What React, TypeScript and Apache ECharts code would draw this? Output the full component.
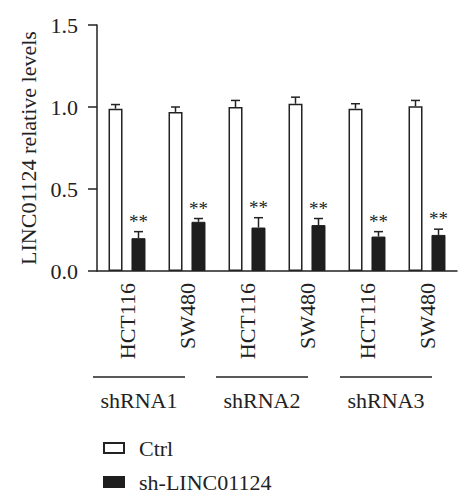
import { useEffect, useRef } from "react";
import * as echarts from "echarts";

const cellLines = ["HCT116", "SW480", "HCT116", "SW480", "HCT116", "SW480"];
const shGroups = ["shRNA1", "shRNA2", "shRNA3"];
const yTicks = [0, 0.5, 1.0, 1.5];

const ctrlValues = [0.99, 0.97, 1.0, 1.02, 0.99, 1.005];
const ctrlErrors = [0.025, 0.03, 0.04, 0.04, 0.03, 0.035];
const shValues = [0.2, 0.3, 0.265, 0.28, 0.21, 0.22];
const shErrors = [0.04, 0.02, 0.06, 0.04, 0.03, 0.035];
const shMarks = ["**", "**", "**", "**", "**", "**"];

const FONT = "'Liberation Serif', 'DejaVu Serif', serif";
const INK = "#222";

// error bar (upper half only) drawn next to the bar, shifted by barOffset
function makeErrorSeries(values: number[], errors: number[], barOffset: number, marks?: string[]) {
  return {
    type: "custom",
    silent: true,
    z: 5,
    data: values.map((v, i) => [i, v, v + errors[i]]),
    renderItem: (params: any, api: any) => {
      const idx = api.value(0);
      const base = api.coord([idx, api.value(1)]);
      const top = api.coord([idx, api.value(2)]);
      const x = base[0] + barOffset;
      const children: any[] = [
        {
          type: "line",
          shape: { x1: x, y1: base[1], x2: x, y2: top[1] },
          style: { stroke: INK, lineWidth: 1.5 },
        },
        {
          type: "line",
          shape: { x1: x - 4.5, y1: top[1], x2: x + 4.5, y2: top[1] },
          style: { stroke: INK, lineWidth: 1.5 },
        },
      ];
      if (marks) {
        children.push({
          type: "text",
          x,
          y: top[1] - 1,
          style: {
            text: marks[params.dataIndex],
            fill: INK,
            font: `19px ${FONT}`,
            align: "center",
            verticalAlign: "bottom",
          },
        });
      }
      return { type: "group", children };
    },
  };
}

export default function App() {
  const chartRef = useRef<HTMLDivElement | null>(null);

  useEffect(() => {
    document.body.style.margin = "0";
    if (!chartRef.current) {
      return;
    }
    const chart = echarts.init(chartRef.current, null, { renderer: "svg" });

    const bracketY = 377;
    const brackets = [
      [93, 185],
      [216, 308],
      [340, 432],
    ];

    chart.setOption({
      animation: false,
      backgroundColor: "#fff",
      textStyle: { fontFamily: FONT },
      grid: { left: 97, right: 17, top: 25, bottom: 229 },
      legend: {
        orient: "vertical",
        left: 98,
        top: 432,
        itemWidth: 20,
        itemHeight: 10,
        itemGap: 12,
        icon: "rect",
        textStyle: {
          fontFamily: FONT,
          fontSize: 22,
          lineHeight: 22,
          color: INK,
          padding: [0, 0, 0, 10],
        },
        data: ["Ctrl", "sh-LINC01124"],
      },
      xAxis: {
        type: "category",
        data: cellLines,
        axisLine: { lineStyle: { color: INK, width: 1.5 } },
        axisTick: { show: false },
        axisLabel: {
          rotate: 90,
          margin: 12,
          fontSize: 22,
          color: INK,
          fontFamily: FONT,
          interval: 0,
        },
      },
      yAxis: {
        type: "value",
        min: 0,
        max: 1.5,
        interval: 0.5,
        name: "LINC01124 relative levels",
        nameLocation: "middle",
        nameGap: 58,
        nameTextStyle: { fontSize: 22, color: INK, fontFamily: FONT },
        axisLine: { show: true, lineStyle: { color: INK, width: 1.5 } },
        axisTick: { show: true, length: 9, lineStyle: { color: INK, width: 1.5 } },
        splitLine: { show: false },
        axisLabel: {
          margin: 19,
          fontSize: 22,
          color: INK,
          fontFamily: FONT,
          formatter: (v: number) => (yTicks.includes(v) ? v.toFixed(1) : ""),
        },
      },
      series: [
        {
          name: "Ctrl",
          type: "bar",
          data: ctrlValues,
          barWidth: 14,
          barGap: "64%",
          itemStyle: { color: "#fff", borderColor: INK, borderWidth: 1.5 },
        },
        {
          name: "sh-LINC01124",
          type: "bar",
          data: shValues,
          barWidth: 14,
          barGap: "64%",
          itemStyle: { color: "#1e1e1e", borderColor: "#1e1e1e", borderWidth: 1 },
        },
        makeErrorSeries(ctrlValues, ctrlErrors, -11.5),
        makeErrorSeries(shValues, shErrors, 11.5, shMarks),
      ],
      graphic: [
        ...brackets.map(([x1, x2]) => ({
          type: "line",
          shape: { x1, y1: bracketY, x2, y2: bracketY },
          style: { stroke: INK, lineWidth: 1.5 },
        })),
        ...shGroups.map((name, i) => ({
          type: "text",
          x: (brackets[i][0] + brackets[i][1]) / 2,
          y: 400,
          style: {
            text: name,
            fill: INK,
            font: `22px ${FONT}`,
            align: "center",
            verticalAlign: "middle",
          },
        })),
      ],
    });

    return () => {
      chart.dispose();
    };
  }, []);

  return <div ref={chartRef} style={{ width: 474, height: 500 }} />;
}
